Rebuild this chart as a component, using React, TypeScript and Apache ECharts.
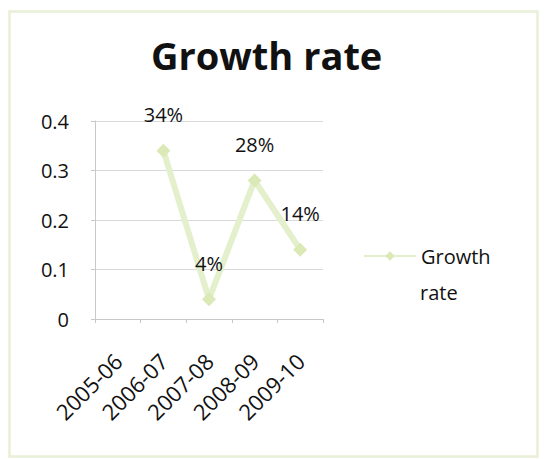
import React, { useEffect, useRef } from "react";
import * as echarts from "echarts";

const categories = ["2005-06", "2006-07", "2007-08", "2008-09", "2009-10"];
const growthRate: (number | null)[] = [null, 0.34, 0.04, 0.28, 0.14];
const yTicks = [0, 0.1, 0.2, 0.3, 0.4];
const legendLines = ["Growth", "rate"];

const FONT = "'Open Sans', 'Liberation Sans', sans-serif";

export default function App() {
  const ref = useRef<HTMLDivElement>(null);
  useEffect(() => {
    if (!ref.current) return;
    const chart = echarts.init(ref.current, undefined, { renderer: "svg" });
    chart.setOption({
      animation: false,
      backgroundColor: "#ffffff",
      title: {
        text: "Growth rate",
        left: 151,
        top: 36,
        padding: 0,
        textStyle: { fontFamily: FONT, fontSize: 38, fontWeight: "bold", color: "#111" },
      },
      graphic: [
        {
          type: "rect",
          shape: { x: 9.5, y: 11.5, width: 528, height: 445 },
          style: { fill: "none", stroke: "#e8f0d6", lineWidth: 2.5 },
          silent: true,
        },
        {
          type: "text",
          left: 420,
          top: 282,
          style: { text: legendLines[1], fontFamily: FONT, fontSize: 20, fill: "#111" },
          silent: true,
        },
      ],
      legend: {
        show: true,
        left: 363,
        top: 246,
        padding: 0,
        itemWidth: 52,
        itemHeight: 12,
        itemGap: 0,
        textStyle: { fontFamily: FONT, fontSize: 20, color: "#111" },
        formatter: () => legendLines[0],
        data: [{ name: "Growth rate" }],
      },
      grid: { left: 95, right: 222, top: 121, bottom: 140, containLabel: false },
      xAxis: {
        type: "category",
        data: categories,
        boundaryGap: true,
        axisLine: { lineStyle: { color: "#c8c8c8" } },
        axisTick: { show: true, length: 4, lineStyle: { color: "#c8c8c8" } },
        axisLabel: {
          rotate: 45,
          fontFamily: FONT,
          fontSize: 22,
          color: "#111",
          margin: 38,
          interval: 0,
        },
      },
      yAxis: {
        type: "value",
        min: 0,
        max: 0.4,
        interval: 0.1,
        axisLine: { show: true, lineStyle: { color: "#c8c8c8" } },
        axisTick: { show: true, length: 4, lineStyle: { color: "#c8c8c8" } },
        splitLine: { lineStyle: { color: "#d9d9d9" } },
        axisLabel: {
          fontFamily: FONT,
          fontSize: 20,
          color: "#111",
          margin: 26,
          formatter: (v: number) => (yTicks.includes(Math.round(v * 10) / 10) ? String(Math.round(v * 10) / 10) : ""),
        },
      },
      series: [
        {
          name: "Growth rate",
          type: "line",
          data: growthRate,
          connectNulls: false,
          symbol: "diamond",
          symbolSize: 14,
          lineStyle: { color: "#e4efcc", width: 6 },
          itemStyle: { color: "#dbe9b6" },
          label: {
            show: true,
            position: "top",
            distance: 19,
            fontFamily: FONT,
            fontSize: 20,
            color: "#111",
            formatter: (p: any) => Math.round(p.value * 100) + "%",
          },
        },
      ],
    });
    return () => chart.dispose();
  }, []);
  return (
    <div
      ref={ref}
      style={{ position: "fixed", left: 0, top: 0, width: 545, height: 459 }}
    />
  );
}
